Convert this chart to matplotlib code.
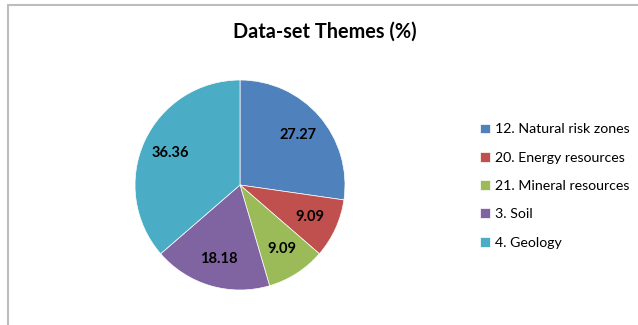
import matplotlib.pyplot as plt
from matplotlib.patches import Rectangle

# data
themes = ["12. Natural risk zones", "20. Energy resources", "21. Mineral resources",
          "3. Soil", "4. Geology"]
shares = [27.27, 9.09, 9.09, 18.18, 36.36]
colors = ["#4F81BD", "#C0504D", "#9BBB59", "#8064A2", "#4BACC6"]

plt.rcParams['font.family'] = ['Lato', 'DejaVu Sans']

fig = plt.figure(figsize=(6.38, 3.25), dpi=100)

# chart frame
fig.add_artist(Rectangle((8 / 638, -0.02), 1.0, 1 - 5 / 325 + 0.02,
                         transform=fig.transFigure, fill=False,
                         edgecolor="#BDBDBD", linewidth=1.5))

ax = fig.add_axes([135 / 638, 35 / 325, 210 / 638, 210 / 325])
wedges, texts = ax.pie(shares, labels=["%.2f" % v for v in shares],
                       colors=colors, startangle=90, counterclock=False,
                       labeldistance=0.73,
                       wedgeprops=dict(edgecolor="white", linewidth=0.5),
                       textprops=dict(fontsize=10.5, fontweight="bold",
                                      color="black", ha="center", va="center"))
ax.set_xlim(-1, 1)
ax.set_ylim(-1, 1)

fig.text(325 / 638, 1 - 32 / 325, "Data-set Themes (%)", ha="center", va="center",
         fontsize=14.3, fontweight="bold")

fig.legend(wedges, themes, loc="center left", bbox_to_anchor=(467 / 638, 1 - 186 / 325),
           frameon=False, fontsize=10.2, handlelength=0.7, handleheight=0.7,
           handletextpad=0.4, labelspacing=1.15)

plt.savefig("out.png", dpi=100)
